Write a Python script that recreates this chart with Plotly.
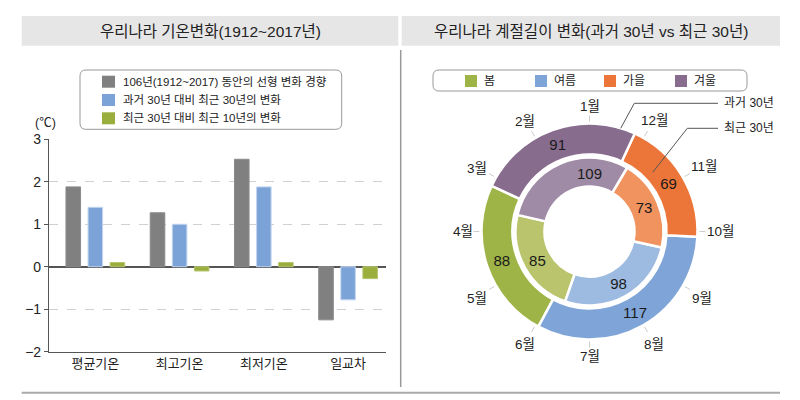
import math
import plotly.graph_objects as go

# ---------------- data ----------------
categories = ["평균기온", "최고기온", "최저기온", "일교차"]
trend_106y = [1.88, 1.27, 2.53, -1.25]
past30_vs_recent30 = [1.40, 1.00, 1.88, -0.78]
recent30_vs_recent10 = [0.10, -0.10, 0.10, -0.28]
bar_names = ["106년(1912~2017) 동안의 선형 변화 경향",
             "과거 30년 대비 최근 30년의 변화",
             "최근 30년 대비 최근 10년의 변화"]
y_ticks = [-2, -1, 0, 1, 2, 3]

seasons = ["봄", "여름", "가을", "겨울"]
past30_days = [88, 117, 69, 91]
recent30_days = [85, 98, 73, 109]
months = [f"{m}월" for m in range(1, 13)]

# ---------------- styles ----------------
bar_colors = ["#808080", "#7ba3d8", "#9aae3e"]
bar_edges = ["#8a8a8a", "#c4d6ee", "#b5c56e"]
outer_colors = ["#9fb447", "#7fa5d8", "#ec7539", "#876c8e"]
inner_colors = ["#b9c46c", "#9dbbe0", "#f0935f", "#a08ba6"]
FONT = "Liberation Sans, Noto Sans CJK KR, sans-serif"
W, H = 800, 400


def px(x):
    return x / W


def py(y):
    return 1 - y / H


def text(x, y, t, size, xanchor="center", color="#222"):
    return dict(xref="paper", yref="paper", x=px(x), y=py(y), text=t, showarrow=False,
                xanchor=xanchor, yanchor="middle", font=dict(size=size, color=color, family=FONT))


fig = go.Figure()

# ---------------- bar chart ----------------
for name, vals, col, edge in zip(bar_names,
                                 [trend_106y, past30_vs_recent30, recent30_vs_recent10],
                                 bar_colors, bar_edges):
    fig.add_trace(go.Bar(x=categories, y=vals, name=name, marker=dict(color=col, line=dict(color=edge, width=1)),
                         showlegend=False, xaxis="x", yaxis="y"))

# ---------------- donut ----------------
cx, cy = 589.5, 231.5
R_out, R_in = 108, 74
outer_start, inner_start = -65, -77   # clockwise degrees from 12 o'clock where spring begins


def first_slice_rotation(start, values):
    # plotly draws the first slice clockwise from `rotation` when direction is counterclockwise
    return start - 360.0 * values[0] / sum(values)


fig.add_trace(go.Pie(
    labels=seasons, values=past30_days, sort=False, direction="counterclockwise",
    rotation=first_slice_rotation(outer_start, past30_days),
    hole=77 / 108, marker=dict(colors=outer_colors, line=dict(color="white", width=2.5)),
    textinfo="value", textposition="inside", insidetextorientation="horizontal",
    textfont=dict(size=15, color="#1a1a1a", family=FONT), automargin=False,
    domain=dict(x=[px(cx - R_out), px(cx + R_out)], y=[py(cy + R_out), py(cy - R_out)]),
    showlegend=False, hoverinfo="label+value"))
fig.add_trace(go.Pie(
    labels=seasons, values=recent30_days, sort=False, direction="counterclockwise",
    rotation=first_slice_rotation(inner_start, recent30_days),
    hole=45 / 74, marker=dict(colors=inner_colors, line=dict(color="white", width=2.5)),
    textinfo="value", textposition="inside", insidetextorientation="horizontal",
    textfont=dict(size=15, color="#1a1a1a", family=FONT), automargin=False,
    domain=dict(x=[px(cx - R_in), px(cx + R_in)], y=[py(cy + R_in), py(cy - R_in)]),
    showlegend=False, hoverinfo="label+value"))

shapes = []
annotations = []

# title bars
shapes.append(dict(type="rect", xref="paper", yref="paper", x0=px(21.7), x1=px(398.3), y0=py(45.7), y1=py(16),
                   fillcolor="#e6e6e6", line=dict(width=0), layer="below"))
shapes.append(dict(type="rect", xref="paper", yref="paper", x0=px(401.7), x1=px(780), y0=py(45.7), y1=py(16),
                   fillcolor="#e6e6e6", line=dict(width=0), layer="below"))
annotations.append(text(210, 31, "우리나라 기온변화(1912~2017년)", 15.5))
annotations.append(text(591, 31, "우리나라 계절길이 변화(과거 30년 vs 최근 30년)", 15.5))
# divider and bottom line
shapes.append(dict(type="line", xref="paper", yref="paper", x0=px(400.7), x1=px(400.7), y0=py(50), y1=py(387),
                   line=dict(color="#999", width=1.5)))
shapes.append(dict(type="line", xref="paper", yref="paper", x0=px(21.7), x1=px(780), y0=py(392.7), y1=py(392.7),
                   line=dict(color="#aaa", width=2)))


def rounded_rect(x0, y0, x1, y1, r):
    return (f"M {px(x0 + r)},{py(y0)} L {px(x1 - r)},{py(y0)} Q {px(x1)},{py(y0)} {px(x1)},{py(y0 + r)} "
            f"L {px(x1)},{py(y1 - r)} Q {px(x1)},{py(y1)} {px(x1 - r)},{py(y1)} "
            f"L {px(x0 + r)},{py(y1)} Q {px(x0)},{py(y1)} {px(x0)},{py(y1 - r)} "
            f"L {px(x0)},{py(y0 + r)} Q {px(x0)},{py(y0)} {px(x0 + r)},{py(y0)} Z")


# bar legend box
shapes.append(dict(type="path", xref="paper", yref="paper", path=rounded_rect(80, 70, 341.7, 129.3, 6),
                   line=dict(color="#999", width=1), fillcolor="white"))
for i, (name, col) in enumerate(zip(bar_names, bar_colors)):
    yc = 81.7 + i * 18.3
    shapes.append(dict(type="rect", xref="paper", yref="paper", x0=px(102), x1=px(115), y0=py(yc + 6), y1=py(yc - 6),
                       fillcolor=col, line=dict(width=0)))
    annotations.append(text(121, yc, name, 11.5, xanchor="left"))
annotations.append(text(45, 123, "(℃)", 12.5))

# donut legend box
shapes.append(dict(type="path", xref="paper", yref="paper", path=rounded_rect(433, 70, 747, 91, 6),
                   line=dict(color="#999", width=1), fillcolor="white"))
sq_x = [465, 535, 604, 675]
for s, col, x0 in zip(seasons, outer_colors, sq_x):
    shapes.append(dict(type="rect", xref="paper", yref="paper", x0=px(x0), x1=px(x0 + 12), y0=py(87), y1=py(75),
                       fillcolor=col, line=dict(width=0)))
    annotations.append(text(x0 + 17, 81, s, 12, xanchor="left"))

# month ticks and labels
for i, m in enumerate(months):
    ang = math.radians(-30 * i)
    s, c = math.sin(ang), math.cos(ang)
    shapes.append(dict(type="line", xref="paper", yref="paper",
                       x0=px(cx + 110 * s), y0=py(cy - 110 * c), x1=px(cx + 116 * s), y1=py(cy - 116 * c),
                       line=dict(color="#ccc", width=1)))
    w = 7 * len(m) + 6
    r = 117 + (w / 2) * abs(s) + 8 * abs(c)
    annotations.append(text(cx + r * s, cy - r * c + 2 * abs(math.sin(2 * ang)), m, 13.5))

# leader lines
shapes.append(dict(type="path", xref="paper", yref="paper",
                   path=f"M {px(620.7)},{py(128.3)} L {px(634.3)},{py(103.3)} L {px(718)},{py(103.3)}",
                   line=dict(color="#555", width=1)))
shapes.append(dict(type="path", xref="paper", yref="paper",
                   path=f"M {px(652.7)},{py(172.3)} L {px(687.3)},{py(128.3)} L {px(718)},{py(128.3)}",
                   line=dict(color="#555", width=1)))
annotations.append(text(722, 103.3, "과거 30년", 12, xanchor="left"))
annotations.append(text(722, 128.3, "최근 30년", 12, xanchor="left"))

fig.update_layout(
    width=W, height=H, margin=dict(l=0, r=0, t=0, b=0, pad=0, autoexpand=False),
    paper_bgcolor="white", plot_bgcolor="white",
    font=dict(family=FONT, color="#222"),
    barmode="group", bargap=0.214, bargroupgap=0.34,
    xaxis=dict(domain=[px(49), px(386)], range=[-0.55, 3.45], showline=True, linecolor="#555", linewidth=1.2,
               showgrid=False, ticks="", tickfont=dict(size=13, color="#222"), anchor="y", automargin=False),
    yaxis=dict(domain=[py(351.7), py(139.3)], range=[-2, 3], tickvals=y_ticks, showgrid=True, gridcolor="#d0d0d0",
               griddash="dash", gridwidth=1, zeroline=True, zerolinecolor="#555", zerolinewidth=1.5,
               showline=True, linecolor="#555", linewidth=1.2, ticks="outside", ticklen=4, tickcolor="#555",
               tickfont=dict(size=14, color="#222"), anchor="x", automargin=False),
    shapes=shapes, annotations=annotations,
)

page_fix = (
    "document.documentElement.style.margin='0';"
    "document.documentElement.style.overflow='hidden';"
    "document.body.style.margin='0';"
    "document.body.style.overflow='hidden';"
    "document.body.style.height='400px';"
    "var g=document.getElementById('{plot_id}');"
    "g.style.position='fixed';g.style.left='0px';g.style.top='0px';"
)
fig.write_html("out.html", config={"displayModeBar": False}, post_script=page_fix)
